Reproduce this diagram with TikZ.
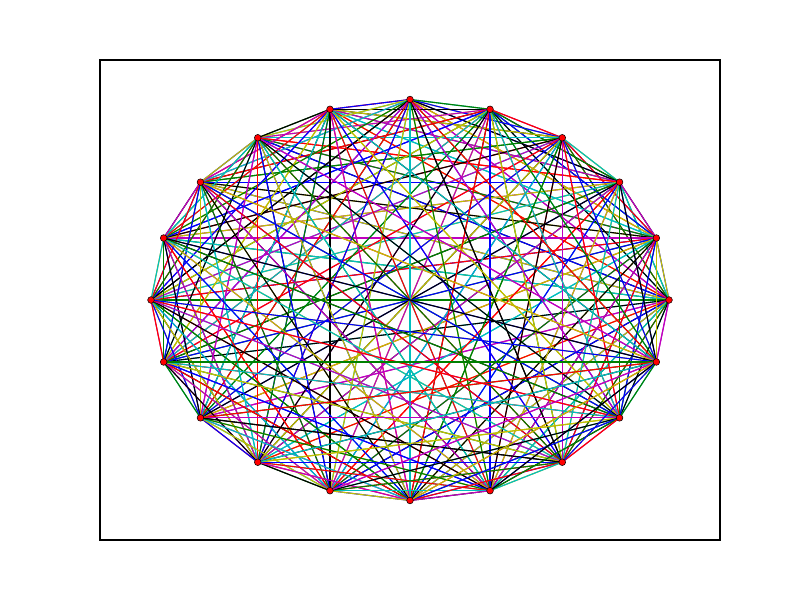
\documentclass[tikz,border=0pt]{standalone}
\definecolor{col0}{rgb}{0,0,1}
\definecolor{col1}{rgb}{0,0.5,0}
\definecolor{col2}{rgb}{1,0,0}
\definecolor{col3}{rgb}{0,0.75,0.75}
\definecolor{col4}{rgb}{0.75,0,0.75}
\definecolor{col5}{rgb}{0.75,0.75,0}
\definecolor{col6}{rgb}{0,0,0}
\tikzset{
  edge/.style={line width=0.32pt},
  vtx/.style={circle,fill=red,draw=black,line width=0.15pt,minimum size=0.67mm,inner sep=0pt},
  frame/.style={draw=black,line width=0.32pt}
}
\begin{document}
\begin{tikzpicture}[x=0.1mm,y=0.1mm]
\fill[white] (0,0) rectangle (800,600);
\useasboundingbox (0,0) rectangle (800,600);
\draw[frame] (100,60) rectangle (720,540);
\foreach \k in {0,...,19}
  \coordinate (n\k) at ({410+259*cos(18*\k)},{300+200.5*sin(18*\k)});
\foreach \i in {0,...,19}{
  \foreach \j in {0,...,19}{
    \ifnum\i=\j\relax\else
      \pgfmathtruncatemacro\idx{mod(\i*19+(\j<\i ? \j : \j-1),7)}
      \draw[edge,color=col\idx] (n\i) -- (n\j);
    \fi
  }
}
\foreach \k in {0,...,19}
  \node[vtx] (v\k) at (n\k) {};
\end{tikzpicture}
\end{document}
